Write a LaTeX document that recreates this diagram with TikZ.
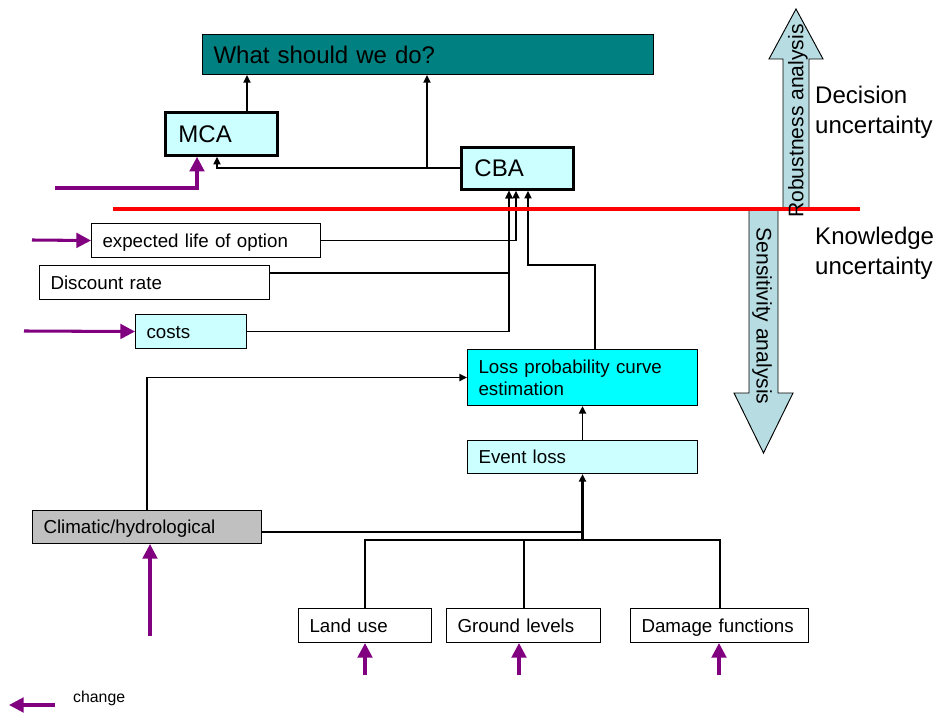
\documentclass[tikz,border=0pt]{standalone}
\usepackage{fontspec}
\setmainfont{Liberation Sans}
\usetikzlibrary{arrows.meta}
\newdimen\pxu \pxu=0.03cm
\definecolor{qteal}{HTML}{008080}
\definecolor{qpale}{HTML}{CCFFFF}
\definecolor{qcyan}{HTML}{00FFFF}
\definecolor{qgray}{HTML}{C0C0C0}
\definecolor{qpurple}{HTML}{800080}
\definecolor{qblue}{HTML}{B7DDE3}
\begin{document}
\begin{tikzpicture}[x=0.03cm,y=-0.03cm,
  big/.style={font=\fontsize{20.5}{25.5}\selectfont},
  small/.style={font=\fontsize{16}{19}\selectfont},
  box/.style={draw=black, line width=0.9pt, rectangle, inner ysep=0pt,
    inner xsep=11\pxu, align=left, anchor=north west, small},
  oneline/.style={text height=11.5pt, text depth=0pt},
  thickbox/.style={box, line width=2.4pt, inner xsep=13\pxu, big},
  conn/.style={draw=black, line width=1.6pt, -{Triangle[length=6.5pt,width=6pt]}},
  plain/.style={draw=black, line width=1.7pt},
  chg/.style={draw=qpurple, line width=2.6pt, -{Triangle[length=12.5pt,width=12.5pt]}},
  bigarrow/.style={fill=qblue, draw=black, line width=0.8pt}
]
\useasboundingbox (0,0) rectangle (935,713);

% decision boxes
\node[box, big, fill=qteal, text width=429\pxu, minimum width=451\pxu, minimum height=40\pxu] (what) at (202,34) {What should we do?};
\node[thickbox, fill=qpale, text width=86\pxu, minimum width=112\pxu, minimum height=43\pxu] (mca) at (164,111) {MCA};
\node[thickbox, fill=qpale, text width=86\pxu, minimum width=112\pxu, minimum height=42\pxu] (cba) at (460,146) {CBA};

% inputs to CBA
\node[box, oneline, fill=white, text width=207\pxu, minimum width=229\pxu, minimum height=34\pxu] (elo) at (91,223) {expected life of option};
\node[box, oneline, fill=white, text width=208\pxu, minimum width=230\pxu, minimum height=34\pxu] (dr) at (39,265) {Discount rate};
\node[box, oneline, fill=qpale, text width=89\pxu, minimum width=111\pxu, minimum height=34\pxu] (costs) at (135,314) {costs};

% loss chain
\node[box, fill=qcyan, text width=208\pxu, minimum width=230\pxu, minimum height=56\pxu] (loss) at (467,349) {Loss probability curve\\estimation};
\node[box, oneline, fill=qpale, text width=208\pxu, minimum width=230\pxu, minimum height=33\pxu] (event) at (467,440) {Event loss};
\node[box, oneline, fill=qgray, text width=207\pxu, minimum width=229\pxu, minimum height=33\pxu] (clim) at (32,510) {Climatic/hydrological};
\node[box, oneline, fill=white, text width=111\pxu, minimum width=133\pxu, minimum height=34\pxu] (land) at (298,608) {Land use};
\node[box, oneline, fill=white, text width=132\pxu, minimum width=154\pxu, minimum height=34\pxu] (ground) at (446,608) {Ground levels};
\node[box, oneline, fill=white, text width=156\pxu, minimum width=178\pxu, minimum height=34\pxu] (damage) at (630,608) {Damage functions};

% helper positions for connector routing
\coordinate (xA) at (247,0);
\coordinate (xB) at (217,0);
\coordinate (xC) at (427,0);
\coordinate (xD) at (516,0);
\coordinate (xF) at (509,0);
\coordinate (yE) at (0,273);
\coordinate (xG) at (595,0);
\coordinate (ptH) at (528,265);
\coordinate (xJ) at (147,0);
\coordinate (yK) at (0,532);
\coordinate (busY) at (0,540);

% black connectors
\draw[conn] (mca.north -| xA) -- (what.south -| xA);
\draw[conn] (cba.west) -| (mca.south -| xB);
\draw[conn] (cba.west -| xC) -- (what.south -| xC);
\draw[conn] (elo.east) -| (cba.south -| xD);
\draw[conn] (dr.east |- yE) -| (cba.south -| xF);
\draw[conn] (costs.east) -| (cba.south -| xF);
\draw[conn] (loss.north -| xG) |- (ptH) -- (cba.south -| ptH);
\draw[conn] (clim.north -| xJ) |- (loss.west);
\draw[conn] (event.north) -- (loss.south);
\draw[plain] (clim.east |- yK) -- (event.south |- yK);
\draw[plain] (land.north) -- (land.north |- busY) -- (damage.north |- busY) -- (damage.north);
\draw[plain] (ground.north) -- (ground.north |- busY);
\draw[conn, line width=1.9pt] (event.south |- busY) -- (event.south);

% change arrows
\coordinate (m0) at (55,188);
\coordinate (xM) at (197,0);
\draw[chg] (m0) -| (mca.south -| xM);
\coordinate (e0) at (32,240);
\draw[chg] (e0) -- (elo.west);
\coordinate (c0) at (24,331);
\draw[chg] (c0) -- (costs.west);
\coordinate (h0) at (150,636);
\draw[chg] (h0) -- (clim.south -| h0);
\coordinate (l0) at (365,675);
\draw[chg] (l0) -- (land.south -| l0);
\coordinate (g0) at (519,675);
\draw[chg] (g0) -- (ground.south -| g0);
\coordinate (d0) at (719,675);
\draw[chg] (d0) -- (damage.south -| d0);

% legend
\coordinate (k0) at (55,705);
\coordinate (k1) at (9,705);
\draw[chg] (k0) -- (k1);
\node[anchor=west, inner sep=0pt, font=\fontsize{13.5}{16}\selectfont] (chlabel) at (73,698) {change};

% uncertainty arrows
\draw[bigarrow] (783,209) -- (783,59) -- (769,59) -- (796,9) -- (823,59) -- (809,59) -- (809,209) -- cycle;
\draw[bigarrow] (749,209) -- (749,393) -- (734,393) -- (763.5,453) -- (793,393) -- (778,393) -- (778,209) -- cycle;

% divider between decision and knowledge uncertainty
\coordinate (r0) at (113,209);
\coordinate (r1) at (860,209);
\draw[red, line width=2.6pt] (r0) -- (r1);

\node[rotate=90, inner sep=0pt, font=\fontsize{18}{21}\selectfont] (robtxt) at (798,121) {Robustness analysis};
\node[rotate=-90, inner sep=0pt, font=\fontsize{18}{21}\selectfont] (sentxt) at (762,316) {Sensitivity analysis};

\node[anchor=west, inner sep=0pt, align=left, big] (dectxt) at (815,112) {Decision\\uncertainty};
\node[anchor=west, inner sep=0pt, align=left, big] (knotxt) at (815,253) {Knowledge\\uncertainty};
\end{tikzpicture}
\end{document}
